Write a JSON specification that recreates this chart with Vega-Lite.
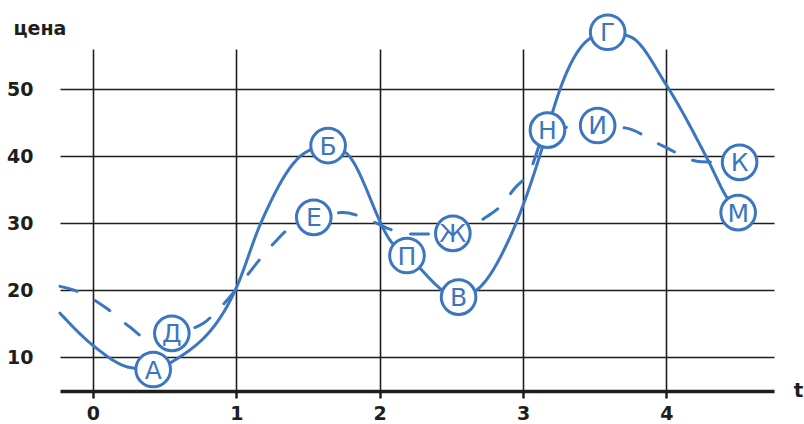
{
  "$schema": "https://vega.github.io/schema/vega-lite/v6.json",
  "width": 714,
  "height": 342,
  "autosize": {"type": "none"},
  "padding": {"left": 60, "top": 49, "right": 30, "bottom": 33},
  "background": "white",
  "config": {"view": {"stroke": null}},
  "datasets": {
    "curves": [
      {"series": "solid", "x": -0.23, "y": 16.6},
      {"series": "solid", "x": 0.0, "y": 11.8},
      {"series": "solid", "x": 0.26, "y": 8.5},
      {"series": "solid", "x": 0.42, "y": 8.2},
      {"series": "solid", "x": 0.57, "y": 9.6},
      {"series": "solid", "x": 1.0, "y": 20.4},
      {"series": "solid", "x": 1.17, "y": 30.0},
      {"series": "solid", "x": 1.47, "y": 40.4},
      {"series": "solid", "x": 1.64, "y": 41.6},
      {"series": "solid", "x": 1.77, "y": 40.4},
      {"series": "solid", "x": 2.09, "y": 27.0},
      {"series": "solid", "x": 2.19, "y": 25.2},
      {"series": "solid", "x": 2.55, "y": 19.0},
      {"series": "solid", "x": 2.69, "y": 20.3},
      {"series": "solid", "x": 2.91, "y": 28.0},
      {"series": "solid", "x": 3.17, "y": 43.9},
      {"series": "solid", "x": 3.21, "y": 46.9},
      {"series": "solid", "x": 3.45, "y": 57.3},
      {"series": "solid", "x": 3.59, "y": 58.5},
      {"series": "solid", "x": 3.75, "y": 57.8},
      {"series": "solid", "x": 4.0, "y": 50.6},
      {"series": "solid", "x": 4.29, "y": 39.4},
      {"series": "solid", "x": 4.42, "y": 33.9},
      {"series": "solid", "x": 4.5, "y": 31.6},
      {"series": "dashed", "x": -0.23, "y": 20.6},
      {"series": "dashed", "x": -0.09, "y": 19.7},
      {"series": "dashed", "x": 0.09, "y": 17.4},
      {"series": "dashed", "x": 0.26, "y": 14.5},
      {"series": "dashed", "x": 0.38, "y": 12.8},
      {"series": "dashed", "x": 0.55, "y": 13.6},
      {"series": "dashed", "x": 0.77, "y": 15.1},
      {"series": "dashed", "x": 0.89, "y": 17.5},
      {"series": "dashed", "x": 1.26, "y": 27.0},
      {"series": "dashed", "x": 1.37, "y": 29.3},
      {"series": "dashed", "x": 1.54, "y": 30.9},
      {"series": "dashed", "x": 1.74, "y": 31.6},
      {"series": "dashed", "x": 1.91, "y": 30.7},
      {"series": "dashed", "x": 2.05, "y": 29.3},
      {"series": "dashed", "x": 2.2, "y": 28.4},
      {"series": "dashed", "x": 2.51, "y": 28.5},
      {"series": "dashed", "x": 2.74, "y": 30.9},
      {"series": "dashed", "x": 2.85, "y": 32.7},
      {"series": "dashed", "x": 2.94, "y": 35.2},
      {"series": "dashed", "x": 3.04, "y": 37.5},
      {"series": "dashed", "x": 3.17, "y": 43.9},
      {"series": "dashed", "x": 3.52, "y": 44.6},
      {"series": "dashed", "x": 3.72, "y": 44.2},
      {"series": "dashed", "x": 3.97, "y": 41.6},
      {"series": "dashed", "x": 4.24, "y": 39.2},
      {"series": "dashed", "x": 4.51, "y": 39.1}
    ],
    "markers": [
      {"label": "А", "x": 0.42, "y": 8.2},
      {"label": "Д", "x": 0.55, "y": 13.6},
      {"label": "Е", "x": 1.54, "y": 30.9},
      {"label": "Б", "x": 1.64, "y": 41.6},
      {"label": "П", "x": 2.19, "y": 25.2},
      {"label": "Ж", "x": 2.51, "y": 28.5},
      {"label": "В", "x": 2.55, "y": 19.0},
      {"label": "Н", "x": 3.17, "y": 43.9},
      {"label": "И", "x": 3.52, "y": 44.6},
      {"label": "Г", "x": 3.59, "y": 58.5},
      {"label": "К", "x": 4.51, "y": 39.1},
      {"label": "М", "x": 4.5, "y": 31.6}
    ]
  },
  "encoding": {
    "x": {
      "field": "x",
      "type": "quantitative",
      "scale": {"domain": [-0.23, 4.75], "nice": false, "zero": false},
      "axis": {
        "values": [0, 1, 2, 3, 4],
        "format": "d",
        "grid": true,
        "gridColor": "#1e1e1e",
        "gridWidth": 1.6,
        "gridOpacity": 1,
        "domain": true,
        "domainColor": "#1e1e1e",
        "domainWidth": 3.5,
        "ticks": true,
        "tickSize": 7,
        "tickWidth": 2.5,
        "tickColor": "#1e1e1e",
        "labelFont": "DejaVu Sans",
        "labelFontWeight": "bold",
        "labelFontSize": 19,
        "labelColor": "#1e1e1e",
        "labelPadding": 6,
        "title": "t",
        "titleFont": "DejaVu Sans",
        "titleFontWeight": "bold",
        "titleFontSize": 20,
        "titleColor": "#1e1e1e",
        "titleAnchor": null,
        "titleAlign": "center",
        "titleBaseline": "middle",
        "titleX": 738,
        "titleY": -1
      }
    },
    "y": {
      "field": "y",
      "type": "quantitative",
      "scale": {"domain": [5, 56], "nice": false, "zero": false},
      "axis": {
        "values": [10, 20, 30, 40, 50],
        "grid": true,
        "gridColor": "#1e1e1e",
        "gridWidth": 1.6,
        "gridOpacity": 1,
        "domain": false,
        "ticks": false,
        "labelFont": "DejaVu Sans",
        "labelFontWeight": "bold",
        "labelFontSize": 19,
        "labelColor": "#1e1e1e",
        "labelPadding": 27,
        "title": "цена",
        "titleFont": "DejaVu Sans",
        "titleFontWeight": "bold",
        "titleFontSize": 19,
        "titleColor": "#1e1e1e",
        "titleAngle": 0,
        "titleAnchor": null,
        "titleAlign": "left",
        "titleBaseline": "alphabetic",
        "titleX": -47,
        "titleY": -15
      }
    }
  },
  "layer": [
    {
      "data": {"name": "curves"},
      "mark": {"type": "line", "interpolate": "monotone", "color": "#3b76c0", "strokeWidth": 3, "strokeCap": "round"},
      "encoding": {
        "detail": {"field": "series", "type": "nominal"},
        "strokeDash": {
          "field": "series",
          "type": "nominal",
          "scale": {"domain": ["solid", "dashed"], "range": [[1, 0], [18, 20]]},
          "legend": null
        }
      }
    },
    {
      "data": {"name": "markers"},
      "mark": {"type": "point", "shape": "circle", "filled": false, "fill": "white", "fillOpacity": 1, "stroke": "#3b76c0", "strokeWidth": 3, "opacity": 1, "size": 1200}
    },
    {
      "data": {"name": "markers"},
      "mark": {"type": "text", "color": "#3b76c0", "font": "DejaVu Sans", "fontSize": 25, "align": "center", "baseline": "middle", "dy": 1},
      "encoding": {"text": {"field": "label", "type": "nominal"}}
    }
  ]
}
